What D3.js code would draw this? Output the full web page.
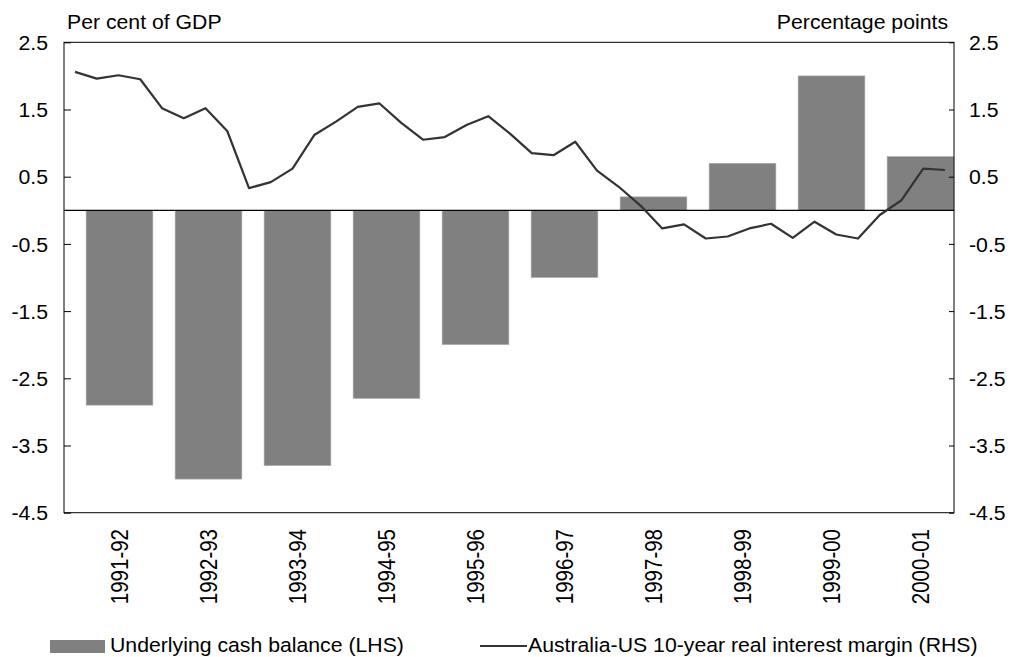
<!DOCTYPE html>
<html>
<head>
<meta charset="utf-8">
<script src="https://cdn.jsdelivr.net/npm/d3@7"></script>
<style>
  body { margin: 0; background: #fff; }
  svg { display: block; font-family: "Liberation Sans", Arial, sans-serif; }
</style>
</head>
<body>
<div id="chart"></div>
<script>
// Fiscal years and underlying cash balance (per cent of GDP, LHS)
const categories = ['1991-92', '1992-93', '1993-94', '1994-95', '1995-96',
    '1996-97', '1997-98', '1998-99', '1999-00', '2000-01'];
const cashBalance = [-2.9, -4.0, -3.8, -2.8, -2.0, -1.0, 0.2, 0.7, 2.0, 0.8];

// Quarterly real interest margin (percentage points, RHS)
const quarters = [
    '1991Q3', '1991Q4', '1992Q1', '1992Q2', '1992Q3', '1992Q4', '1993Q1', '1993Q2',
    '1993Q3', '1993Q4', '1994Q1', '1994Q2', '1994Q3', '1994Q4', '1995Q1', '1995Q2',
    '1995Q3', '1995Q4', '1996Q1', '1996Q2', '1996Q3', '1996Q4', '1997Q1', '1997Q2',
    '1997Q3', '1997Q4', '1998Q1', '1998Q2', '1998Q3', '1998Q4', '1999Q1', '1999Q2',
    '1999Q3', '1999Q4', '2000Q1', '2000Q2', '2000Q3', '2000Q4', '2001Q1', '2001Q2',
    '2001Q3'
];
const interestMargin = [
    2.06, 1.96, 2.01, 1.95, 1.52, 1.37, 1.52, 1.18,
    0.33, 0.42, 0.62, 1.12, 1.32, 1.54, 1.59, 1.30,
    1.05, 1.09, 1.27, 1.40, 1.14, 0.85, 0.82, 1.02,
    0.59, 0.35, 0.07, -0.27, -0.21, -0.42, -0.39, -0.27,
    -0.20, -0.41, -0.17, -0.36, -0.42, -0.07, 0.15, 0.62,
    0.60
];

const yTicks = [2.5, 1.5, 0.5, -0.5, -1.5, -2.5, -3.5, -4.5];

const width = 1011, height = 657;
const plot = { left: 64, right: 954, top: 42.3, bottom: 512.7 };
const fontSize = 19.5;
const stretch = 'scale(1.09,1)';   // the original type is a little wide
const fmt = d => d.toFixed(1);     // plain hyphen for negatives

const svg = d3.select('#chart').append('svg')
    .attr('width', width)
    .attr('height', height)
    .attr('font-size', fontSize);

const yLeft = d3.scaleLinear().domain([-4.5, 2.5]).range([plot.bottom, plot.top]);
const yRight = d3.scaleLinear().domain([-4.5, 2.5]).range([plot.bottom, plot.top]);

const xBand = d3.scaleBand()
    .domain(categories)
    .range([plot.left + 11, plot.right + 11])
    .paddingInner(0.25)
    .paddingOuter(0.125);

const xLine = d3.scalePoint()
    .domain(quarters)
    .range([75, 945]);

function addText(parent, x, y, str, anchor) {
    return parent.append('text')
        .attr('transform', `translate(${x},${y}) ${stretch}`)
        .attr('text-anchor', anchor || 'start')
        .attr('fill', '#000')
        .text(str);
}

// bars
svg.append('g')
    .selectAll('rect')
    .data(categories)
    .enter()
    .append('rect')
    .attr('x', d => xBand(d))
    .attr('width', xBand.bandwidth())
    .attr('y', (d, i) => yLeft(Math.max(0, cashBalance[i])))
    .attr('height', (d, i) => Math.abs(yLeft(cashBalance[i]) - yLeft(0)))
    .attr('fill', '#808080')
    .attr('stroke', '#b0b0b0')
    .attr('stroke-width', 0.6);

// frame
svg.append('rect')
    .attr('x', plot.left)
    .attr('y', plot.top)
    .attr('width', plot.right - plot.left)
    .attr('height', plot.bottom - plot.top)
    .attr('fill', 'none')
    .attr('stroke', '#000')
    .attr('stroke-width', 1);

// zero line
svg.append('line')
    .attr('x1', plot.left)
    .attr('x2', plot.right)
    .attr('y1', yLeft(0))
    .attr('y2', yLeft(0))
    .attr('stroke', '#000')
    .attr('stroke-width', 1.3);

// left axis, ticks pointing inside
const leftAxis = svg.append('g')
    .attr('transform', `translate(${plot.left},0)`)
    .call(d3.axisRight(yLeft).tickValues(yTicks).tickSize(7).tickFormat(fmt));
leftAxis.select('.domain').remove();
leftAxis.selectAll('text')
    .attr('x', 0)
    .attr('transform', `translate(-16,1) ${stretch}`)
    .attr('text-anchor', 'end')
    .attr('font-size', fontSize)
    .attr('font-family', '"Liberation Sans", Arial, sans-serif')
    .attr('fill', '#000');

const rightAxis = svg.append('g')
    .attr('transform', `translate(${plot.right},0)`)
    .call(d3.axisLeft(yRight).tickValues(yTicks).tickSize(5).tickFormat(fmt));
rightAxis.select('.domain').remove();
rightAxis.selectAll('text')
    .attr('x', 0)
    .attr('transform', `translate(15,1) ${stretch}`)
    .attr('text-anchor', 'start')
    .attr('font-size', fontSize)
    .attr('font-family', '"Liberation Sans", Arial, sans-serif')
    .attr('fill', '#000');

// line
const line = d3.line()
    .x((d, i) => xLine(quarters[i]))
    .y(d => yRight(d));

svg.append('path')
    .datum(interestMargin)
    .attr('fill', 'none')
    .attr('stroke', '#333333')
    .attr('stroke-width', 2.2)
    .attr('stroke-linejoin', 'round')
    .attr('d', line);

// category labels, rotated
svg.append('g')
    .selectAll('text')
    .data(categories)
    .enter()
    .append('text')
    .attr('transform', d => `translate(${xBand(d) + xBand.bandwidth() / 2},529) scale(1.15,1) rotate(-90)`)
    .attr('text-anchor', 'end')
    .attr('dy', '0.35em')
    .attr('font-size', 20.5)
    .attr('fill', '#000')
    .text(d => d);

// axis titles
addText(svg, 67, 29, 'Per cent of GDP');
addText(svg, 948, 29, 'Percentage points', 'end');

// legend
const legend = svg.append('g');
legend.append('rect')
    .attr('x', 50)
    .attr('y', 640)
    .attr('width', 55)
    .attr('height', 13)
    .attr('fill', '#808080');
addText(legend, 110, 652, 'Underlying cash balance (LHS)');
legend.append('line')
    .attr('x1', 480)
    .attr('x2', 527)
    .attr('y1', 646)
    .attr('y2', 646)
    .attr('stroke', '#333333')
    .attr('stroke-width', 2);
addText(legend, 528, 652, 'Australia-US 10-year real interest margin (RHS)');
</script>
</body>
</html>
